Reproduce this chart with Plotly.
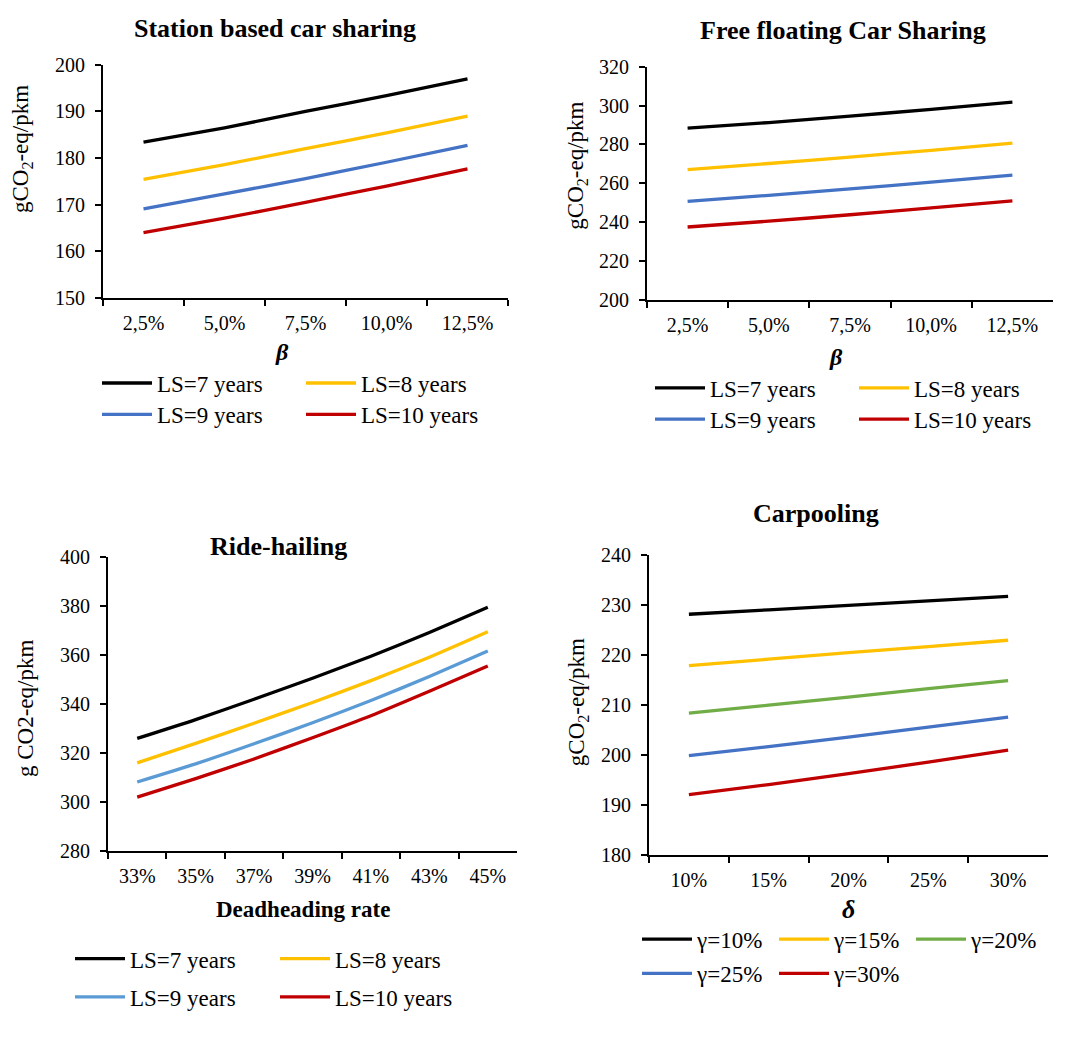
import plotly.graph_objects as go

FONT = "Liberation Serif"
W, H = 1065, 1050

BLACK = "#000000"
ORANGE = "#FFC000"
BLUE = "#4472C4"
RED = "#C00000"
GREEN = "#70AD47"
LBLUE = "#5B9BD5"

# ---------------- data ----------------
# Station based car sharing
sb_x = ["2,5%", "5,0%", "7,5%", "10,0%", "12,5%"]
sb_ls7 = [183.4, 186.5, 190.0, 193.4, 197.0]
sb_ls8 = [175.4, 178.6, 182.0, 185.4, 189.0]
sb_ls9 = [169.1, 172.3, 175.6, 179.1, 182.7]
sb_ls10 = [164.0, 167.1, 170.5, 174.0, 177.7]

# Free floating car sharing
ff_x = ["2,5%", "5,0%", "7,5%", "10,0%", "12,5%"]
ff_ls7 = [288.4, 291.3, 294.6, 298.1, 301.8]
ff_ls8 = [267.1, 270.2, 273.5, 277.0, 280.7]
ff_ls9 = [250.7, 253.8, 257.1, 260.6, 264.2]
ff_ls10 = [237.5, 240.5, 243.8, 247.3, 251.0]

# Ride-hailing
rh_x = ["33%", "35%", "37%", "39%", "41%", "43%", "45%"]
rh_ls7 = [326.0, 333.7, 342.0, 350.6, 359.6, 369.3, 379.6]
rh_ls8 = [316.0, 324.0, 332.2, 340.7, 349.6, 359.2, 369.6]
rh_ls9 = [308.2, 315.6, 323.8, 332.4, 341.5, 351.3, 361.7]
rh_ls10 = [302.0, 309.6, 317.6, 326.3, 335.3, 345.3, 355.6]

# Carpooling
cp_x = ["10%", "15%", "20%", "25%", "30%"]
cp_g10 = [228.2, 229.1, 230.0, 230.9, 231.8]
cp_g15 = [217.9, 219.2, 220.5, 221.7, 223.0]
cp_g20 = [208.4, 210.0, 211.6, 213.3, 214.9]
cp_g25 = [199.9, 201.7, 203.6, 205.6, 207.6]
cp_g30 = [192.1, 194.1, 196.3, 198.6, 201.0]

ls_names = ["LS=7 years", "LS=8 years", "LS=9 years", "LS=10 years"]
cp_names = ["γ=10%", "γ=15%", "γ=20%", "γ=25%", "γ=30%"]

fig = go.Figure()


def add(x, y, name, color, xa, ya, legend):
    fig.add_trace(go.Scatter(
        x=x, y=y, name=name, mode="lines",
        line=dict(color=color, width=3.3, shape="spline", smoothing=0.6),
        xaxis=xa, yaxis=ya, legend=legend,
    ))


add(sb_x, sb_ls7, ls_names[0], BLACK, "x", "y", "legend")
add(sb_x, sb_ls8, ls_names[1], ORANGE, "x", "y", "legend")
add(sb_x, sb_ls9, ls_names[2], BLUE, "x", "y", "legend2")
add(sb_x, sb_ls10, ls_names[3], RED, "x", "y", "legend2")

add(ff_x, ff_ls7, ls_names[0], BLACK, "x2", "y2", "legend3")
add(ff_x, ff_ls8, ls_names[1], ORANGE, "x2", "y2", "legend3")
add(ff_x, ff_ls9, ls_names[2], BLUE, "x2", "y2", "legend4")
add(ff_x, ff_ls10, ls_names[3], RED, "x2", "y2", "legend4")

add(rh_x, rh_ls7, ls_names[0], BLACK, "x3", "y3", "legend5")
add(rh_x, rh_ls8, ls_names[1], ORANGE, "x3", "y3", "legend5")
add(rh_x, rh_ls9, ls_names[2], LBLUE, "x3", "y3", "legend6")
add(rh_x, rh_ls10, ls_names[3], RED, "x3", "y3", "legend6")

add(cp_x, cp_g10, cp_names[0], BLACK, "x4", "y4", "legend7")
add(cp_x, cp_g15, cp_names[1], ORANGE, "x4", "y4", "legend7")
add(cp_x, cp_g20, cp_names[2], GREEN, "x4", "y4", "legend7")
add(cp_x, cp_g25, cp_names[3], BLUE, "x4", "y4", "legend8")
add(cp_x, cp_g30, cp_names[4], RED, "x4", "y4", "legend8")


def px(v):
    return v / W


def py(v):
    return 1 - v / H


TICKFONT = dict(size=20, color="black", family=FONT)


def xax(x0, x1, anchor, n):
    return dict(
        domain=[px(x0), px(x1)], anchor=anchor, type="category",
        range=[-0.5, n - 0.5], tickson="boundaries", ticks="outside",
        ticklen=6, tickwidth=1.8, tickcolor="black", showline=True,
        linecolor="black", linewidth=1.8, showgrid=False, zeroline=False,
        tickfont=TICKFONT, ticklabelstandoff=6,
    )


def yax(top, bottom, anchor, rng, dt):
    return dict(
        domain=[py(bottom), py(top)], anchor=anchor, range=rng, dtick=dt,
        ticks="outside", ticklen=6, tickwidth=1.8, tickcolor="black",
        showline=True, linecolor="black", linewidth=1.8, showgrid=False,
        zeroline=False, tickfont=TICKFONT, ticklabelstandoff=6,
    )


def leg(x, y, ew):
    return dict(
        x=px(x), y=py(y), xanchor="left", yanchor="middle",
        orientation="h", entrywidth=ew, entrywidthmode="pixels",
        font=dict(size=23, color="black", family=FONT),
        bgcolor="rgba(0,0,0,0)", itemwidth=50, tracegroupgap=0,
    )


def ann(x, y, text, size, angle=0):
    return dict(
        x=px(x), y=py(y), xref="paper", yref="paper", text=text,
        showarrow=False, textangle=angle, xanchor="center", yanchor="middle",
        font=dict(size=size, color="black", family=FONT),
    )


fig.update_layout(
    width=W, height=H,
    margin=dict(l=0, r=0, t=0, b=0),
    paper_bgcolor="white", plot_bgcolor="white",
    font=dict(family=FONT, color="black", size=20),
    xaxis=xax(103, 508, "y", 5),
    yaxis=yax(55, 293, "x", [150, 200], 10),
    xaxis2=xax(647, 1053, "y2", 5),
    yaxis2=yax(57, 295, "x2", [200, 320], 20),
    xaxis3=xax(108, 517, "y3", 7),
    yaxis3=yax(558, 858, "x3", [280, 400], 20),
    xaxis4=xax(649, 1048, "y4", 5),
    yaxis4=yax(556, 862, "x4", [180, 240], 10),
    legend=leg(97, 380, 139),
    legend2=leg(97, 412, 139),
    legend3=leg(650, 385, 139),
    legend4=leg(650, 417, 139),
    legend5=leg(70, 968, 140),
    legend6=leg(70, 1007, 140),
    legend7=leg(637, 948, 72),
    legend8=leg(637, 983, 72),
    annotations=[
        ann(275, 18, "<b>Station based car sharing</b>", 26),
        ann(843, 20, "<b>Free floating Car Sharing</b>", 26),
        ann(278, 547, "<b>Ride-hailing</b>", 26),
        ann(816, 513, "<b>Carpooling</b>", 26),
        ann(22, 141, "gCO<sub>2</sub>-eq/pkm", 23, -90),
        ann(577, 158, "gCO<sub>2</sub>-eq/pkm", 23, -90),
        ann(25, 713, "g CO2-eq/pkm", 23, -90),
        ann(578, 706, "gCO<sub>2</sub>-eq/pkm", 23, -90),
        ann(282, 348, "<b><i>β</i></b>", 24),
        ann(836, 353, "<b><i>β</i></b>", 24),
        ann(303, 918, "<b>Deadheading rate</b>", 23),
        ann(848, 918, "<b><i>δ</i></b>", 26),
    ],
)

fig.write_html("out.html")
